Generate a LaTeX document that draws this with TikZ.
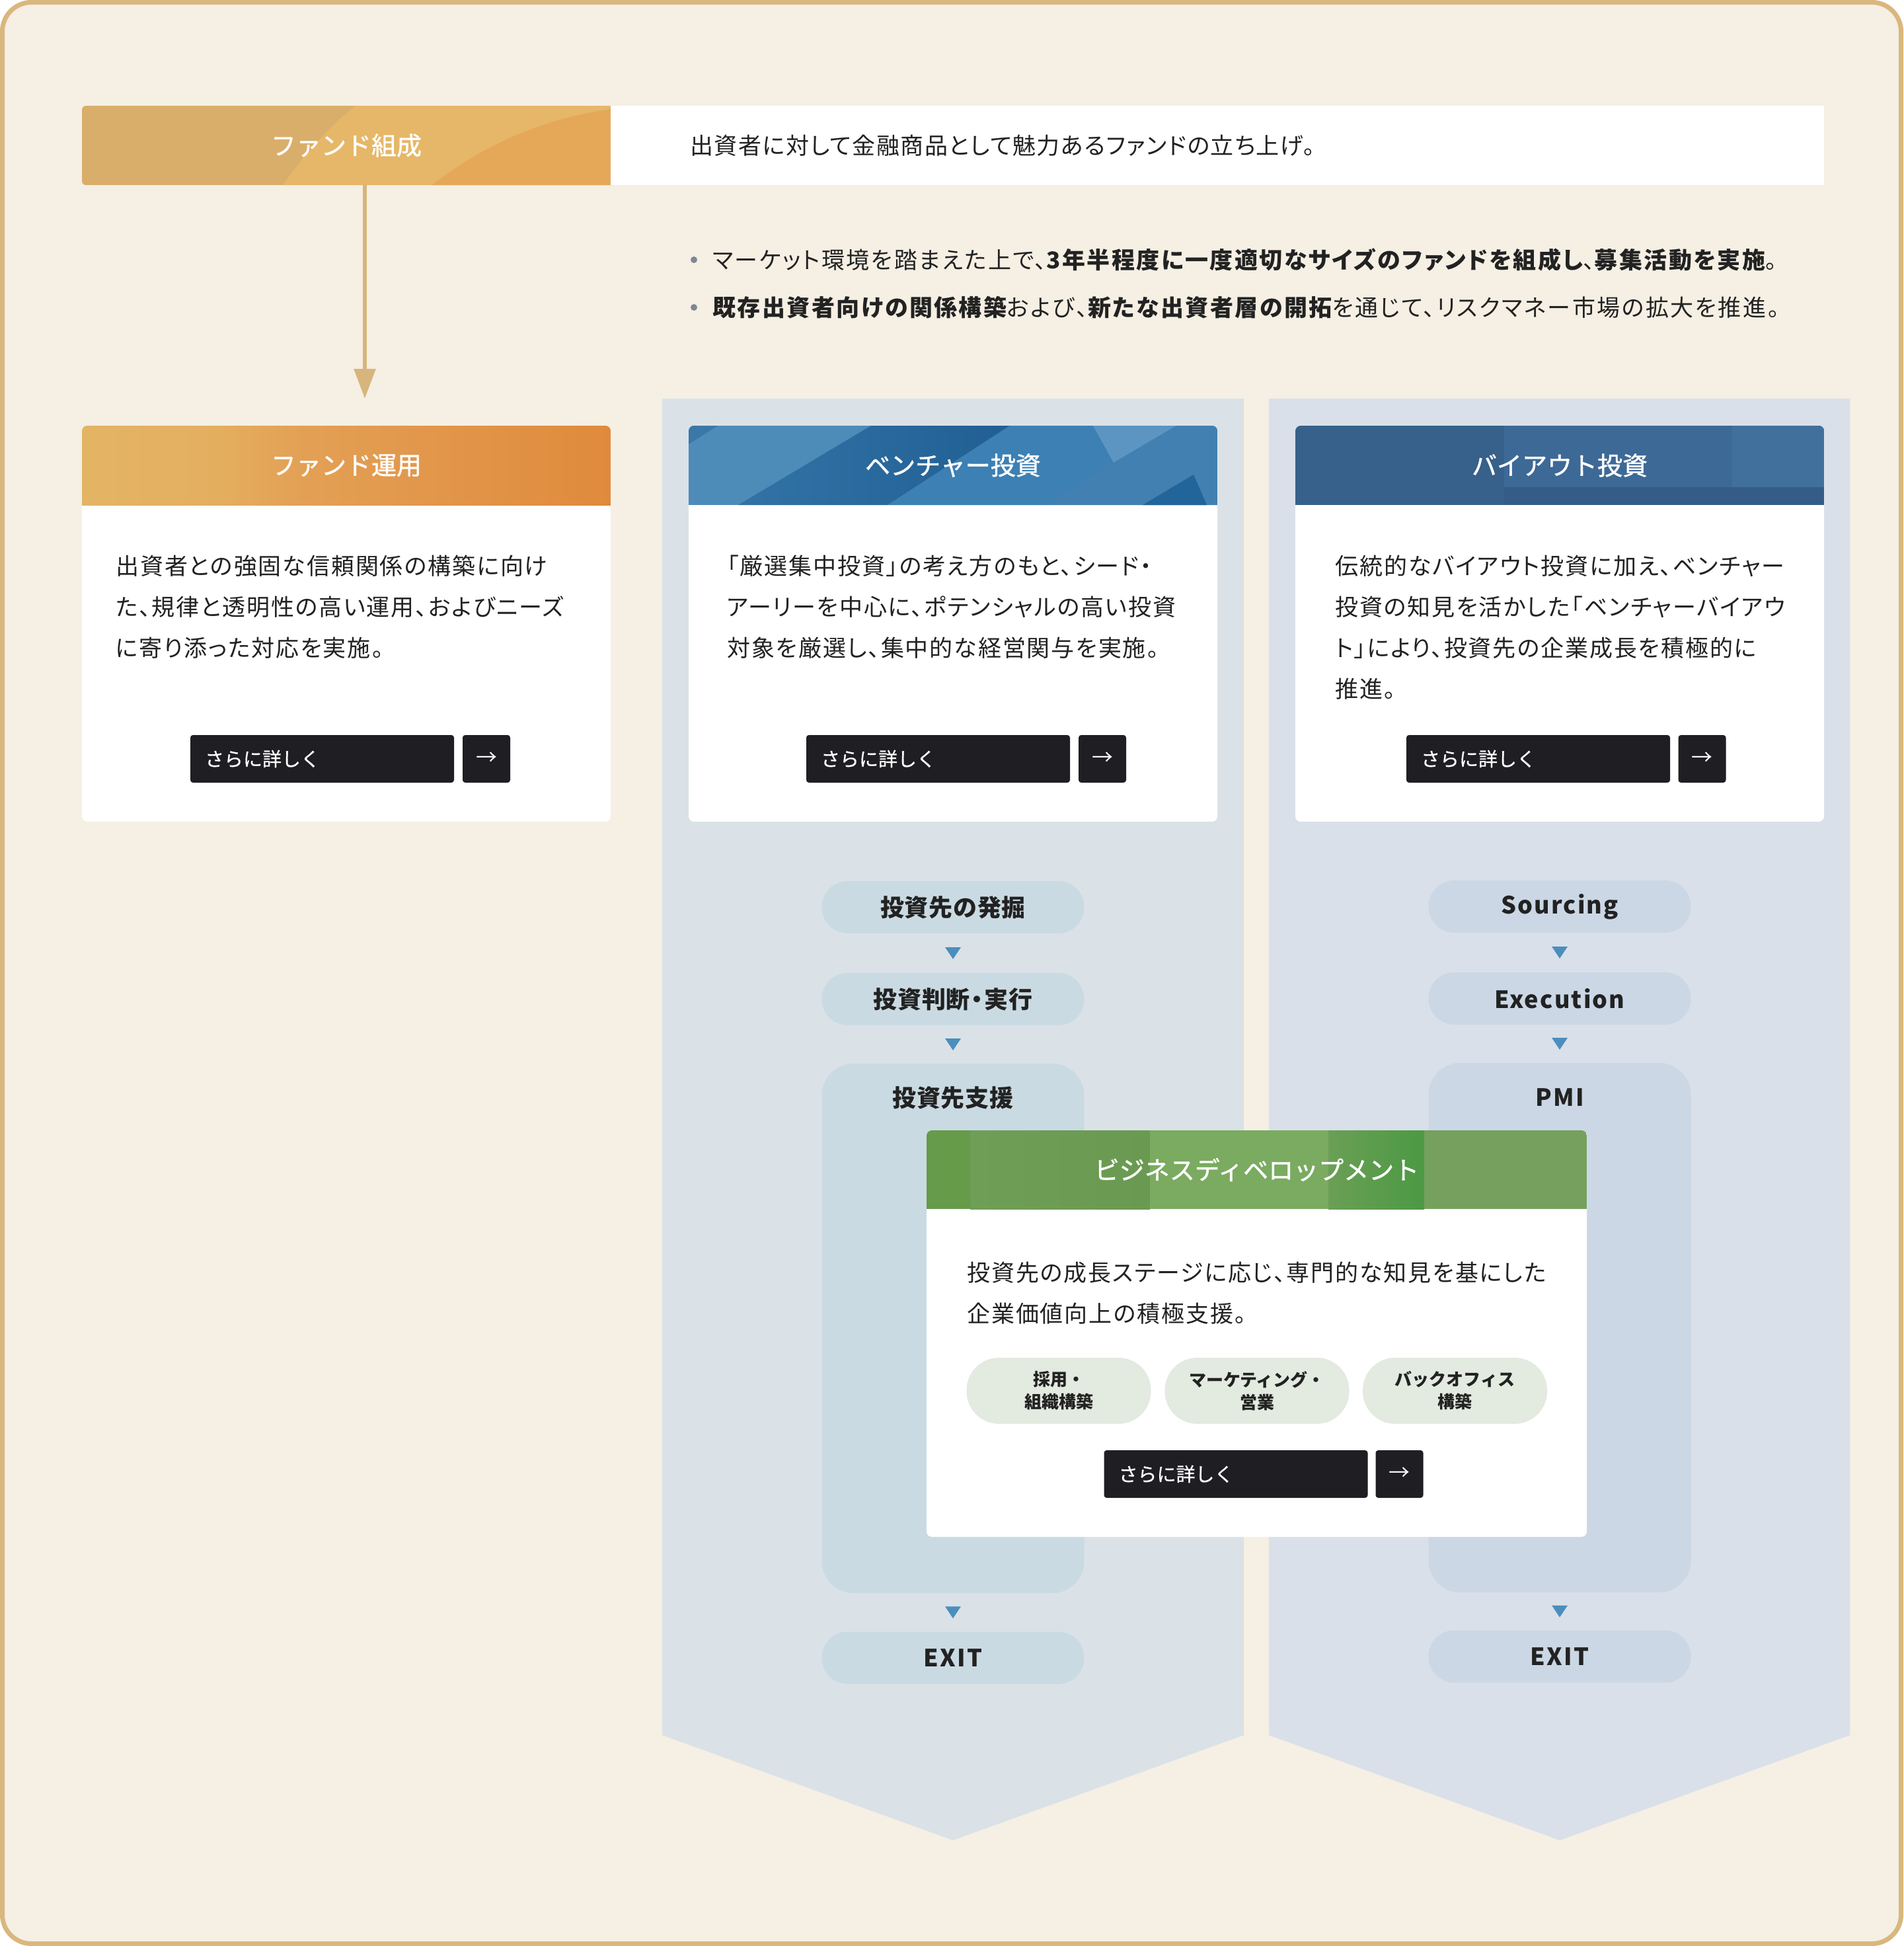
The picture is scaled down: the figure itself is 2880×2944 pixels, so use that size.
\documentclass[tikz,border=0pt]{standalone}
\usepackage{fontspec}
\usetikzlibrary{calc,arrows.meta}
\newfontfamily\jp{Noto Sans CJK JP}
\newfontfamily\jpp[RawFeature=+palt, LetterSpace=5.5]{Noto Sans CJK JP}
\newfontfamily\jpbul[RawFeature=+palt, LetterSpace=7]{Noto Sans CJK JP}
\newfontfamily\jpstr[RawFeature=+palt, LetterSpace=4.5]{Noto Sans CJK JP}
\newfontfamily\jpmed[FakeBold=1.2]{Noto Sans CJK JP}
\newfontfamily\jpbtn[FakeBold=0.6]{Noto Sans CJK JP}
\newfontfamily\jpls[LetterSpace=6]{Noto Sans CJK JP}
\newfontfamily\jppill[LetterSpace=2]{Noto Sans CJK JP}
\newcommand\nk{\makebox[0.6em][c]{・}}
\definecolor{bg}{HTML}{F5EFE4}
\definecolor{frame}{HTML}{D9B77E}
\definecolor{arrc}{HTML}{D8B57C}
\definecolor{panelL}{HTML}{DAE2E7}
\definecolor{panelR}{HTML}{D9E0E9}
\definecolor{pillV}{HTML}{CADAE2}
\definecolor{pillB}{HTML}{CBD7E5}
\definecolor{tri}{HTML}{4B8EBD}
\definecolor{btn}{HTML}{1F1F23}
\definecolor{tagc}{HTML}{E3EAE0}
\definecolor{ink}{HTML}{222222}
\definecolor{bul}{HTML}{7D8793}
\definecolor{ff1}{HTML}{D9AE6B}
\definecolor{ff2}{HTML}{E6B768}
\definecolor{ff3}{HTML}{E5A859}
\definecolor{fo1}{HTML}{D8AE6E}
\definecolor{fo2}{HTML}{D9AE6B}
\definecolor{fo3}{HTML}{E4B566}
\definecolor{fo4}{HTML}{E4AE5F}
\definecolor{fo5}{HTML}{E3A055}
\definecolor{fo6}{HTML}{E08A3C}
\definecolor{fo7}{HTML}{DC7A2A}
\definecolor{vb0}{HTML}{4D8BB9}
\definecolor{vb1}{HTML}{3A78A8}
\definecolor{vb2a}{HTML}{3273A6}
\definecolor{vb2b}{HTML}{215F93}
\definecolor{vb3}{HTML}{3C80B4}
\definecolor{vb4}{HTML}{5C95C1}
\definecolor{vb5}{HTML}{4180B1}
\definecolor{vb6}{HTML}{22659B}
\definecolor{bo0}{HTML}{37608A}
\definecolor{bo1}{HTML}{3D6996}
\definecolor{bo2}{HTML}{42709D}
\definecolor{bo3}{HTML}{355C86}
\definecolor{g1}{HTML}{669B4A}
\definecolor{g2a}{HTML}{6F9E57}
\definecolor{g2b}{HTML}{6A9A52}
\definecolor{g3}{HTML}{7AAB60}
\definecolor{g4a}{HTML}{6A9F55}
\definecolor{g4b}{HTML}{4C9944}
\definecolor{g5}{HTML}{75A05D}
\pgfdeclarehorizontalshading{fundop}{100bp}{color(0bp)=(fo1); color(20bp)=(fo2); color(23bp)=(fo3); color(38bp)=(fo4); color(46bp)=(fo5); color(75bp)=(fo6); color(100bp)=(fo7)}
\begin{document}
\begin{tikzpicture}[x=1pt,y=-1pt,
  txt/.style={inner sep=0pt, text=ink, font=\jpbul\fontsize{35}{42}\selectfont},
  striptxt/.style={inner sep=0pt, text=ink, font=\jpstr\fontsize{35}{42}\selectfont},
  hdrtxt/.style={inner sep=0pt, text=white, minimum width=800pt, minimum height=120pt, font=\jpmed\fontsize{38}{44}\selectfont},
  body/.style={anchor=base west, inner sep=0pt, text width=900pt, align=left, text=ink, font=\jpp\fontsize{35}{62}\selectfont},
  btnbox/.style={fill=btn, rounded corners=4pt, inner xsep=22pt, inner ysep=0pt, text width=355pt, align=left, minimum height=72pt, text=white, font=\jpbtn\fontsize{29}{34}\selectfont},
  arrbox/.style={fill=btn, rounded corners=4pt, inner sep=0pt, minimum width=72pt, minimum height=72pt, text=white, font=\jp\fontsize{32}{36}\selectfont},
  pill/.style={rounded corners=39pt, minimum width=397pt, minimum height=79pt, inner sep=0pt, text=ink, font=\jppill\bfseries\fontsize{36}{42}\selectfont},
  pillv/.style={pill, fill=pillV},
  pillb/.style={pill, fill=pillB},
  pilltxt/.style={inner sep=0pt, text=ink, font=\jppill\bfseries\fontsize{36}{42}\selectfont},
  tagbox/.style={fill=tagc, rounded corners=49pt, minimum width=279pt, minimum height=100pt, inner sep=0pt, align=center, text=ink, font=\jp\bfseries\fontsize{26}{34}\selectfont},
  latin/.style={font=\jpls\bfseries\fontsize{36}{42}\selectfont}
]
\useasboundingbox (0,0) rectangle (2880,2944);
\draw[line width=7pt, draw=frame, fill=bg, rounded corners=44pt] (3.5,3.5) rectangle (2876.5,2940.5);

% column panels
\fill[panelL] (1002,603) -- (1882,603) -- (1882,2625) -- (1442,2784) -- (1002,2625) -- cycle;
\fill[panelR] (1920,603) -- (2799,603) -- (2799,2625) -- (2360,2784) -- (1920,2625) -- cycle;

% fund formation header
\begin{scope}
\clip[rounded corners=6pt] (124,160) rectangle (934,280);
\fill[ff1] (124,160) rectangle (934,280);
\fill[ff2] (900,600) circle (570pt);
\fill[ff3] (1000,720) circle (560pt);
\end{scope}
\node[fill=white, minimum width=1836pt, minimum height=120pt, inner sep=0pt] (strip) at (1842,220) {};
\node[hdrtxt] (fundform) at (524,220) {ファンド組成};
\node[striptxt, anchor=base west] (striptext) at (1044,233) {出資者に対して金融商品として魅力あるファンドの立ち上げ。};

% arrow
\coordinate (arrtip) at (552,603);
\draw[line width=6pt, draw=arrc, -{Triangle[width=32pt,length=45pt]}] (fundform.south -| arrtip) -- (arrtip);

% bullets
\fill[bul] (1050,393) circle (5pt);
\node[txt, anchor=base west] (bl1) at (1078,406) {マーケット環境を踏まえた上で、{\bfseries 3年半程度に一度適切なサイズのファンドを組成し}、{\bfseries 募集活動を実施}。};
\fill[bul] (1050,465) circle (5pt);
\node[txt, anchor=base west] (bl2) at (1078,478) {{\bfseries 既存出資者向けの関係構築}および、{\bfseries 新たな出資者層の開拓}を通じて、リスクマネー市場の拡大を推進。};

% fund operation card
\fill[white, rounded corners=8pt] (124,644) rectangle (924,1243);
\begin{scope}
\clip[rounded corners=8pt] (124,644) rectangle (924,800);
\shade[shading=fundop] (124,644) rectangle (924,764);
\end{scope}
\node[hdrtxt] (fundop) at (524,704) {ファンド運用};
\node[body] (fundoptext) at (175,869) {出資者との強固な信頼関係の構築に向け\\た、規律と透明性の高い運用、およびニーズ\\に寄り添った対応を実施。};
\node[btnbox] (fundbtn) at (487.5,1148) {さらに詳しく};
\node[arrbox] (fundarr) at (736,1148) {→};

% venture card
\fill[white, rounded corners=8pt] (1042,644) rectangle (1842,1243);
\begin{scope}
\clip[rounded corners=8pt] (1042,644) rectangle (1842,800);
\fill[vb0] (1042,644) rectangle (1842,764);
\fill[vb1] (1042,644) -- (1086,644) -- (1042,672) -- cycle;
\shade[left color=vb2a, right color=vb2b] (1117,764) -- (1318,644) -- (1528,644) -- (1343,764) -- cycle;
\fill[vb3] (1343,764) -- (1528,644) -- (1654,644) -- (1685,700) -- (1580,764) -- cycle;
\fill[vb4] (1654,644) -- (1780,644) -- (1685,700) -- cycle;
\fill[vb5] (1685,700) -- (1780,644) -- (1842,644) -- (1842,764) -- (1580,764) -- cycle;
\fill[vb6] (1729,764) -- (1806,718) -- (1826,764) -- cycle;
\end{scope}
\node[hdrtxt] (venture) at (1442,704) {ベンチャー投資};
\node[body] (venturetext) at (1100,869) {「厳選集中投資」の考え方のもと、シード・\\アーリーを中心に、ポテンシャルの高い投資\\対象を厳選し、集中的な経営関与を実施。};
\node[btnbox] (venturebtn) at (1419.5,1148) {さらに詳しく};
\node[arrbox] (venturearr) at (1668,1148) {→};

% buyout card
\fill[white, rounded corners=8pt] (1960,644) rectangle (2760,1243);
\begin{scope}
\clip[rounded corners=8pt] (1960,644) rectangle (2760,800);
\fill[bo0] (1960,644) rectangle (2760,764);
\fill[bo1] (2276,644) rectangle (2760,737);
\fill[bo2] (2621,644) rectangle (2760,737);
\fill[bo3] (2276,737) rectangle (2760,764);
\end{scope}
\node[hdrtxt] (buyout) at (2360,704) {バイアウト投資};
\node[body] (buyouttext) at (2020,869) {伝統的なバイアウト投資に加え、ベンチャー\\投資の知見を活かした「ベンチャーバイアウ\\ト」により、投資先の企業成長を積極的に\\推進。};
\node[btnbox] (buyoutbtn) at (2327.5,1148) {さらに詳しく};
\node[arrbox] (buyoutarr) at (2575.5,1148) {→};

% venture steps
\node[pillv] (v1) at (1442,1372.5) {投資先の発掘};
\node[pillv] (v2) at (1442,1511.5) {投資判断\nk 実行};
\node[pillv, minimum height=801pt, rounded corners=48pt] (v3) at (1442,2009.5) {};
\node[pilltxt] (v3t) at ($(v3.north)+(0,52)$) {投資先支援};
\node[pillv, latin] (v4) at (1442,2508) {EXIT};

% buyout steps
\node[pillb, latin] (s1) at (2360,1371.5) {Sourcing};
\node[pillb, latin] (s2) at (2360,1510.5) {Execution};
\node[pillb, minimum height=801pt, rounded corners=48pt] (s3) at (2360,2008.5) {};
\node[pilltxt, latin] (s3t) at ($(s3.north)+(0,52)$) {PMI};
\node[pillb, latin] (s4) at (2360,2506) {EXIT};

\foreach \a/\b in {v1/v2, v2/v3, v3/v4, s1/s2, s2/s3, s3/s4}
  \fill[tri] ($(\a.south)!.5!(\b.north)$) ++(-12,-9) -- ++(24,0) -- ++(-12,18) -- cycle;

% business development card
\fill[white, rounded corners=8pt] (1402,1710) rectangle (2401,2325);
\begin{scope}
\clip[rounded corners=8pt] (1402,1710) rectangle (2401,1860);
\fill[g1] (1402,1710) rectangle (1468,1829);
\shade[left color=g2a, right color=g2b] (1468,1710) rectangle (1740,1829);
\fill[g3] (1740,1710) rectangle (2010,1829);
\shade[left color=g4a, right color=g4b] (2010,1710) rectangle (2155,1829);
\fill[g5] (2155,1710) rectangle (2401,1829);
\end{scope}
\node[hdrtxt, minimum width=999pt, minimum height=119pt] (bd) at (1901.5,1769.5) {ビジネスディベロップメント};
\node[body] (bdtext) at (1463,1938) {投資先の成長ステージに応じ、専門的な知見を基にした\\企業価値向上の積極支援。};
\node[tagbox] (t1) at (1602,2104) {採用・\\組織構築};
\node[tagbox] (t2) at (1902,2104) {マーケティング・\\営業};
\node[tagbox] (t3) at (2201.5,2104) {バックオフィス\\構築};
\node[btnbox] (bdbtn) at (1870,2230) {さらに詳しく};
\node[arrbox] (bdarr) at (2117.5,2230) {→};
\end{tikzpicture}
\end{document}
